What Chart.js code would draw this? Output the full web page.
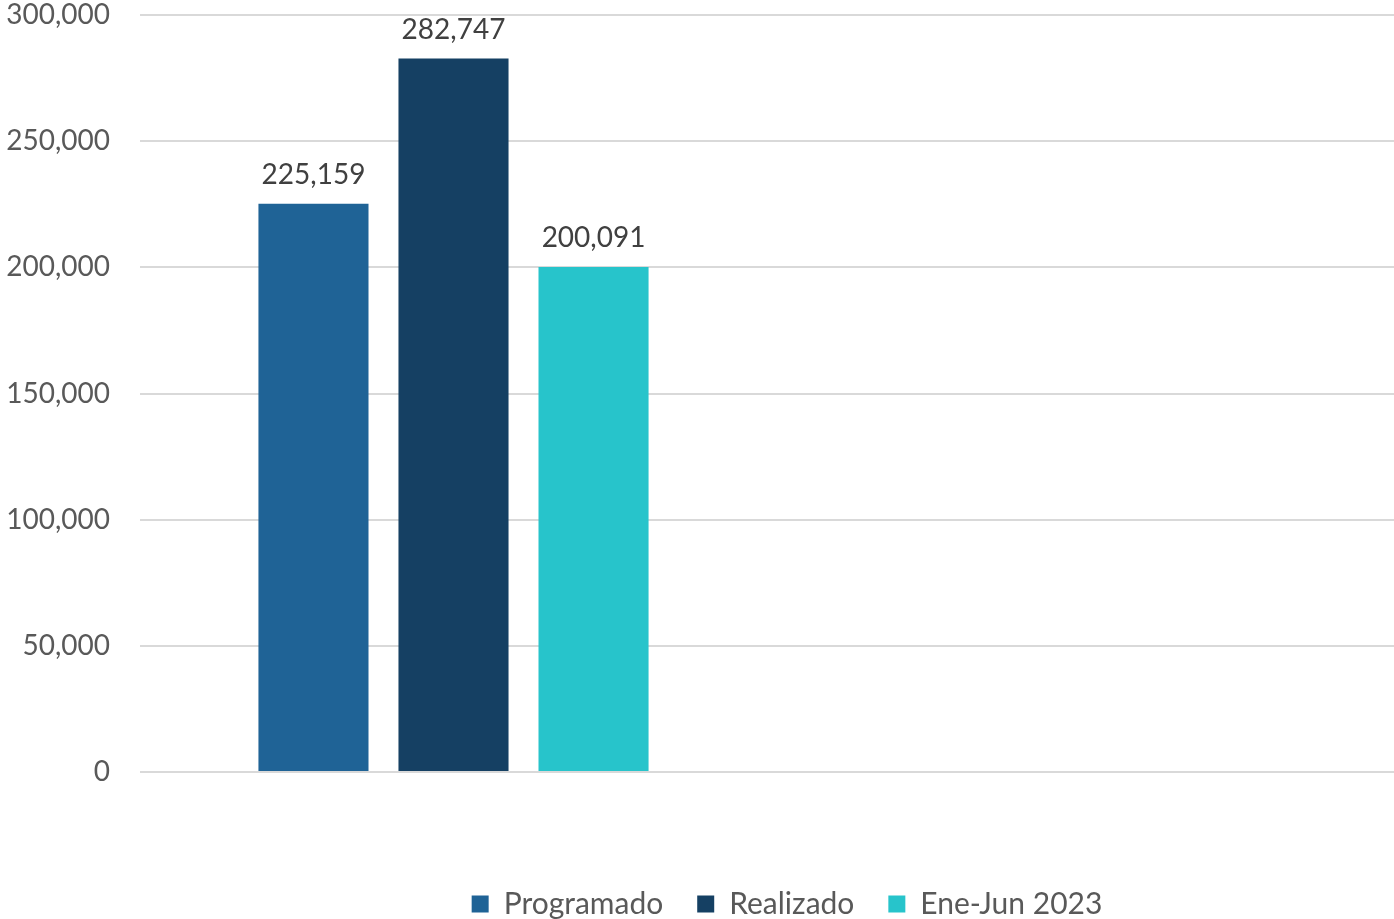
<!DOCTYPE html>
<html>
<head>
<meta charset="utf-8">
<script src="https://cdn.jsdelivr.net/npm/chart.js@4"></script>
<style>
  html, body { margin: 0; padding: 0; background: #fff; }
  #wrap { width: 1394px; height: 919px; }
</style>
</head>
<body>
<div id="wrap"><canvas id="myChart"></canvas></div>
<script>
const categories = ['', ''];
const seriesNames = ['Programado', 'Realizado', 'Ene-Jun 2023'];
const programado = [225159, null];
const realizado = [282747, null];
const eneJun2023 = [200091, null];
const yTicks = [0, 50000, 100000, 150000, 200000, 250000, 300000];
const seriesColors = ['#1f6396', '#154063', '#27c4cb'];

const FONT = 'Lato, "Open Sans", sans-serif';

// draws the value above each bar
const barLabels = {
  id: 'barLabels',
  afterDatasetsDraw(chart) {
    const ctx = chart.ctx;
    ctx.save();
    ctx.font = '28px ' + FONT;
    ctx.fillStyle = '#404040';
    ctx.textAlign = 'center';
    ctx.textBaseline = 'bottom';
    chart.data.datasets.forEach((ds, i) => {
      chart.getDatasetMeta(i).data.forEach((bar, j) => {
        const v = ds.data[j];
        if (v == null) return;
        ctx.fillText(v.toLocaleString('en-US'), bar.x, bar.y - 15);
      });
    });
    ctx.restore();
  }
};

// nudge the legend a bit to the right, like the original
const legendShift = {
  id: 'legendShift',
  afterLayout(chart) {
    chart.legend.left += 40;
  }
};

const allSeries = [programado, realizado, eneJun2023];

new Chart('myChart', {
  type: 'bar',
  data: {
    labels: categories,
    datasets: allSeries.map((d, i) => ({
      label: seriesNames[i],
      data: d,
      backgroundColor: seriesColors[i],
      categoryPercentage: 0.67,
      barPercentage: 0.786
    }))
  },
  options: {
    responsive: true,
    maintainAspectRatio: false,
    animation: false,
    layout: { padding: { top: 15, right: 0, bottom: -10 } },
    plugins: {
      tooltip: { enabled: false },
      legend: {
        position: 'bottom',
        fullSize: false,
        labels: {
          boxWidth: 17,
          boxHeight: 17,
          padding: 34,
          color: '#595959',
          font: { family: FONT, size: 30 }
        }
      }
    },
    scales: {
      x: {
        grid: { display: false },
        border: { display: false },
        ticks: { display: false },
        afterFit(scale) { scale.height = 83; }
      },
      y: {
        min: yTicks[0],
        max: yTicks[yTicks.length - 1],
        afterBuildTicks(scale) { scale.ticks = yTicks.map(v => ({ value: v })); },
        afterFit(scale) {
          scale.width = 140;
          scale.paddingTop = 0;
          scale.paddingBottom = 0;
        },
        border: { display: false },
        grid: { color: '#d9d9d9', lineWidth: 2, drawTicks: false },
        ticks: {
          padding: 30,
          color: '#595959',
          font: { family: FONT, size: 28 },
          callback: v => v.toLocaleString('en-US')
        }
      }
    }
  },
  plugins: [barLabels, legendShift]
});
</script>
</body>
</html>
